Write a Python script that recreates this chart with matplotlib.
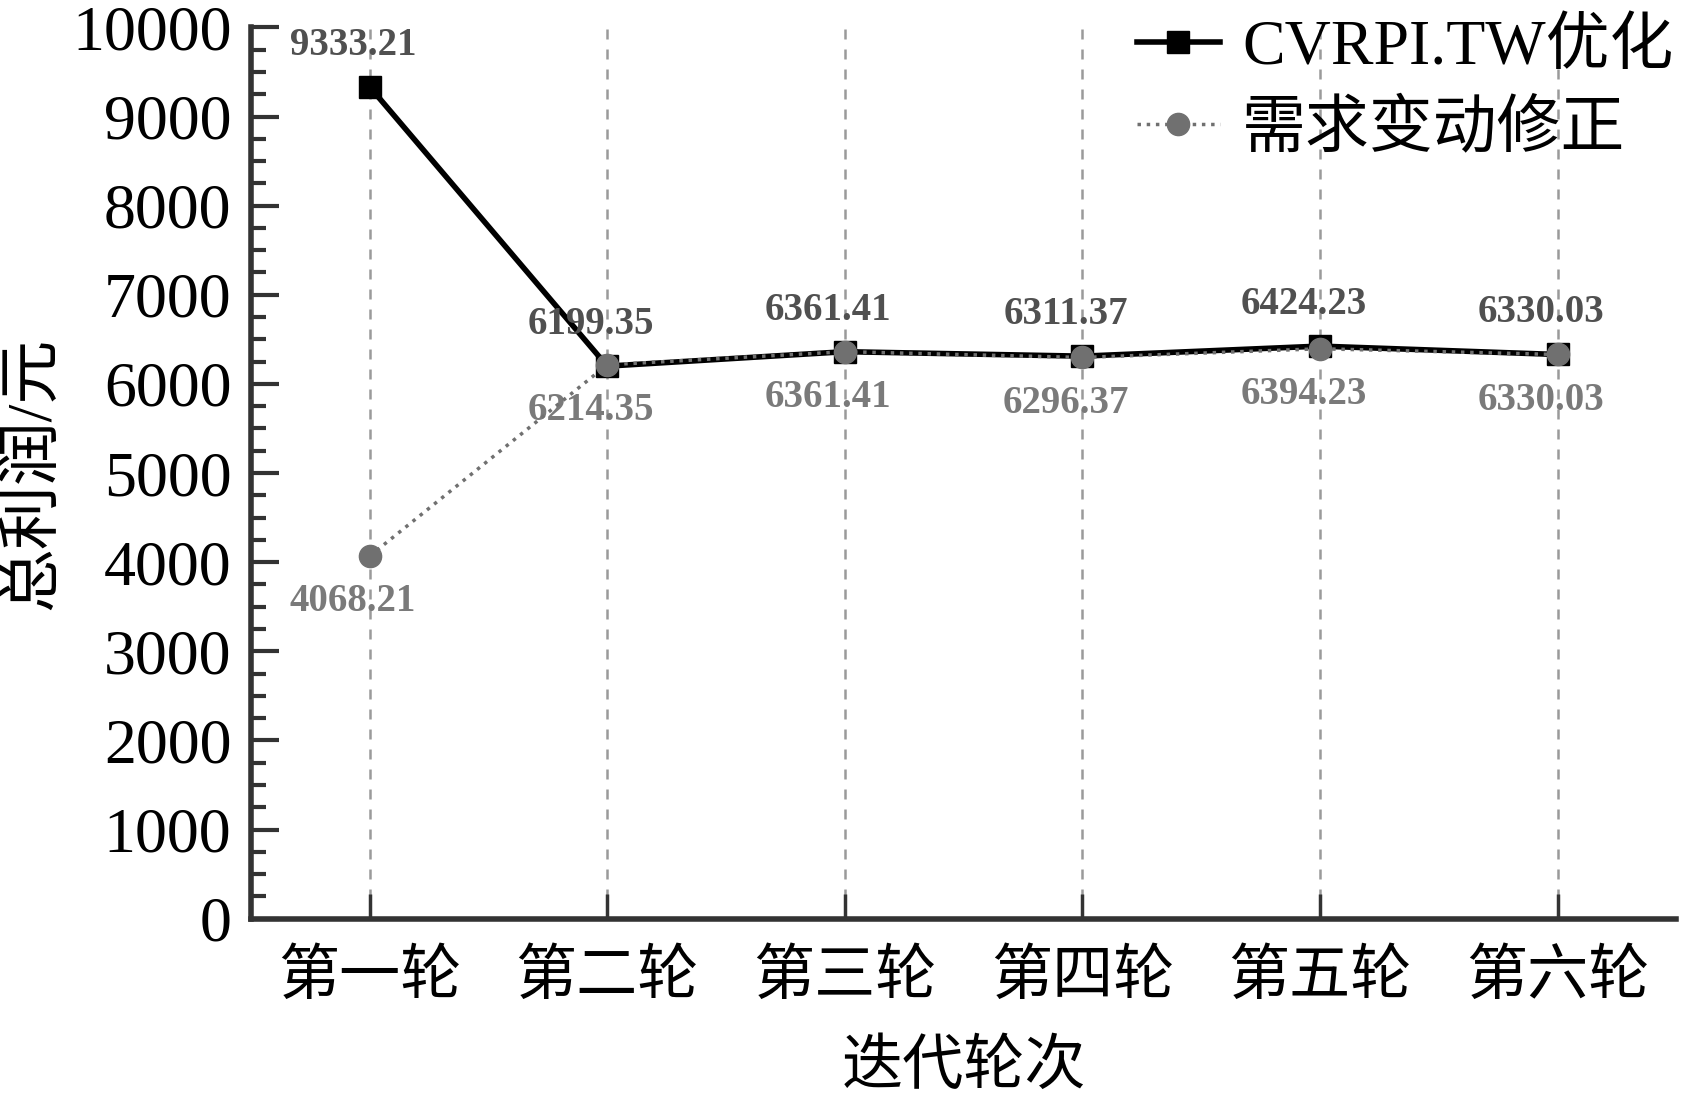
import matplotlib
matplotlib.use("Agg")
from matplotlib import pyplot as plt
from matplotlib.ticker import MultipleLocator
import numpy as np

plt.rcParams['font.family'] = ['Liberation Serif', 'Noto Sans CJK SC', 'DejaVu Sans']

# 数据
rounds = ['第一轮', '第二轮', '第三轮', '第四轮', '第五轮', '第六轮']
cvrpi = [9333.21, 6199.35, 6361.41, 6311.37, 6424.23, 6330.03]
demand = [4068.21, 6214.35, 6361.41, 6296.37, 6394.23, 6330.03]
name_cvrpi = 'CVRPI.TW优化'
name_demand = '需求变动修正'

x = np.arange(len(rounds))

fig = plt.figure(figsize=(16.95, 10.95), dpi=100)
ax = fig.add_axes([0.148, 0.161, 0.841, 0.814])

# 竖直虚线
for xi in x:
    ax.axvline(xi, color='#9a9a9a', ls=(0, (4, 4)), lw=1.8, zorder=1)

ax.plot(x, cvrpi, color='black', lw=4, marker='s', ms=16, label=name_cvrpi, zorder=3)
ax.plot(x, demand, color='#707070', lw=2.5, ls=':', marker='o', ms=16, label=name_demand, zorder=4)

for xi, v in zip(x, cvrpi):
    ax.annotate(f'{v:.2f}', (xi, v), xytext=(-12, 30), textcoords='offset points',
                ha='center', va='center', fontsize=28, fontweight='bold', color='#505050')
for xi, v in zip(x, demand):
    ax.annotate(f'{v:.2f}', (xi, v), xytext=(-12, -33), textcoords='offset points',
                ha='center', va='center', fontsize=28, fontweight='bold', color='#7a7a7a')

ax.set_xlim(-0.5, 5.5)
ax.set_ylim(0, 10000)
ax.set_xticks(x)
ax.set_xticklabels(rounds)
ax.yaxis.set_major_locator(MultipleLocator(1000))
ax.yaxis.set_minor_locator(MultipleLocator(250))
ax.tick_params(axis='y', which='major', direction='in', length=20, width=3, color='#333333',
               labelsize=46, pad=14)
ax.tick_params(axis='y', which='minor', direction='in', length=11, width=3, color='#333333')
ax.tick_params(axis='x', which='major', direction='in', length=18, width=2.5, color='#333333',
               labelsize=44, pad=23)

for s in ['top', 'right']:
    ax.spines[s].set_visible(False)
for s in ['left', 'bottom']:
    ax.spines[s].set_linewidth(4)
    ax.spines[s].set_color('#333333')

ax.set_xlabel('迭代轮次', fontsize=44, labelpad=24)
ax.set_ylabel('总利润/元', fontsize=46, labelpad=6)

fig.legend(loc='upper left', bbox_to_anchor=(0.648, 1.017), frameon=False, fontsize=46,
           handlelength=1.3, handletextpad=0.35, labelspacing=0.35, borderpad=0.1)

fig.savefig('out.png', dpi=100)
